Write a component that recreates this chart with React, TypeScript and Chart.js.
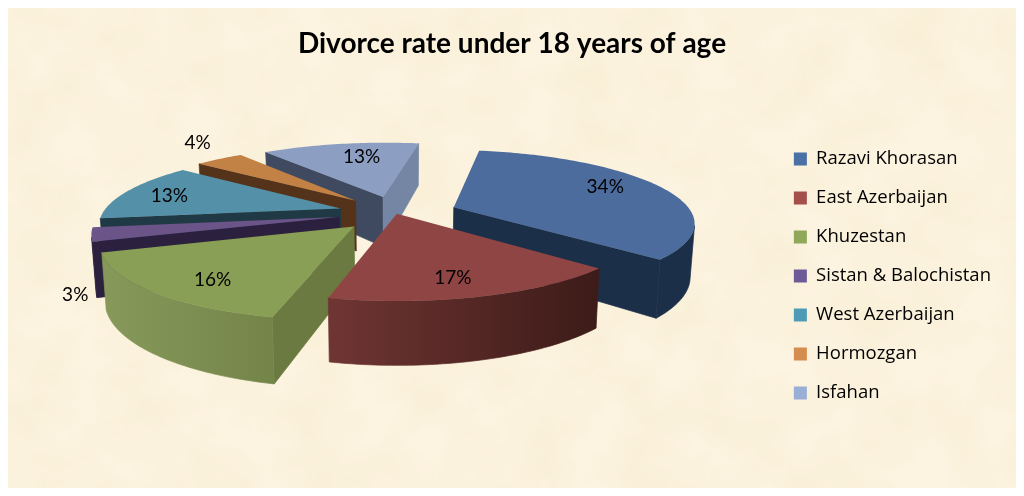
import React, { useEffect, useRef } from "react";
import { Chart, registerables } from "chart.js";

Chart.register(...registerables);

const titleText = "Divorce rate under 18 years of age";
const provinces = ["Razavi Khorasan", "East Azerbaijan", "Khuzestan", "Sistan & Balochistan", "West Azerbaijan", "Hormozgan", "Isfahan"];
const shares = [34, 17, 16, 3, 13, 4, 13];
const explosion = [62, 3, 60, 58, 58, 60, 58];
const legendColors = ["#4A71A6", "#A54F4D", "#8FA85A", "#6E5A96", "#4F9BB5", "#D58C4F", "#9AAFD5"];
const topColors = ["#4B6C9C", "#8F4543", "#8A9F56", "#6A5488", "#5490A8", "#C38245", "#8C9FC2"];
const startWall = ["#1C2F48", "#3C1B18", "#6B7A40", "#2B203D", "#203A45", "#54331A", "#3F4A60"];
const endWall = ["#1C2F48", "#6F3533", "#6B7A40", "#2B203D", "#203A45", "#54331A", "#7486A3"];
const rimLeft = ["#1C2F48", "#6F3533", "#86995A", "#2B203D", "#203A45", "#54331A", "#3F4A60"];
const rimRight = ["#1C2F48", "#3C1B18", "#6C7B42", "#2B203D", "#203A45", "#54331A", "#3F4A60"];
const paintOrder = [6, 5, 4, 3, 2, 0, 1];
const labelRadius = [0.62, 0.6, 0.6, 1.15, 0.7, 1.2, 0.65];
const labelNudge = [[21, -7], [9, 19], [-28, 17], [23, 58], [-20, 0], [2, -9], [8, -4]];

const view = { cx: 396, cy: 213, tilt: 0.295, persp: 0.19, depth: 52, shrink: 0.985 };

type Pt = { x: number; y: number };

function project(u: number, v: number, low: boolean, R: number): Pt {
  const w = 1 - view.persp * v;
  const s = low ? view.shrink : 1;
  return {
    x: view.cx + (R * u * s) / w,
    y: view.cy + (R * view.tilt * v) / w + (low ? view.depth / w : 0),
  };
}

function fillPoly(ctx: CanvasRenderingContext2D, pts: Pt[], fill: any, seal = false) {
  ctx.beginPath();
  pts.forEach((p, i) => (i ? ctx.lineTo(p.x, p.y) : ctx.moveTo(p.x, p.y)));
  ctx.closePath();
  ctx.fillStyle = fill;
  ctx.fill();
  if (seal) {
    ctx.strokeStyle = fill;
    ctx.lineWidth = 0.7;
    ctx.stroke();
  }
}

function faces(a: Pt, b: Pt, c: Pt, d: Pt) {
  const q = [a, b, c, d];
  let area = 0;
  q.forEach((p, k) => {
    const n = q[(k + 1) % 4];
    area += p.x * n.y - n.x * p.y;
  });
  return area < 0;
}

function sliceFrame(arc: any) {
  const R = arc.outerRadius;
  const mid = (arc.startAngle + arc.endAngle) / 2;
  const e = (arc.options.offset || 0) / R;
  return { R, mid, ou: e * Math.cos(mid), ov: e * Math.sin(mid) };
}

const pie3d = {
  id: "pie3d",
  beforeDatasetDraw(chart: any) {
    const ctx: CanvasRenderingContext2D = chart.ctx;
    const arcs = chart.getDatasetMeta(0).data;
    ctx.save();
    paintOrder.forEach((i) => {
      const arc = arcs[i];
      const { R, ou, ov } = sliceFrame(arc);
      const n = Math.max(4, Math.ceil((arc.endAngle - arc.startAngle) / 0.02));
      const ring: [number, number][] = [[ou, ov]];
      for (let s = 0; s <= n; s++) {
        const a = arc.startAngle + ((arc.endAngle - arc.startAngle) * s) / n;
        ring.push([ou + Math.cos(a), ov + Math.sin(a)]);
      }
      const hi = ring.map(([u, v]) => project(u, v, false, R));
      const lo = ring.map(([u, v]) => project(u, v, true, R));
      const xs = hi.map((p) => p.x);
      const grad = ctx.createLinearGradient(Math.min(...xs), 0, Math.max(...xs), 0);
      grad.addColorStop(0, rimLeft[i]);
      grad.addColorStop(1, rimRight[i]);
      const last = hi.length - 1;
      if (faces(hi[0], hi[1], lo[1], lo[0])) fillPoly(ctx, [hi[0], hi[1], lo[1], lo[0]], startWall[i], true);
      if (faces(hi[last], hi[0], lo[0], lo[last])) fillPoly(ctx, [hi[last], hi[0], lo[0], lo[last]], endWall[i], true);
      // the rim: one polygon over the run of segments that face the viewer
      let from = -1;
      let to = -1;
      for (let s = 1; s < last; s++) {
        if (faces(hi[s], hi[s + 1], lo[s + 1], lo[s])) {
          if (from < 0) from = s;
          to = s + 1;
        }
      }
      if (from > 0) {
        const band = [...hi.slice(from, to + 1), ...lo.slice(from, to + 1).reverse()];
        fillPoly(ctx, band, grad, true);
      }
      fillPoly(ctx, hi, topColors[i]);
    });
    ctx.fillStyle = "#000";
    ctx.font = "19px Lato";
    ctx.textAlign = "center";
    ctx.textBaseline = "middle";
    arcs.forEach((arc: any, i: number) => {
      const { R, mid, ou, ov } = sliceFrame(arc);
      const r = labelRadius[i];
      const p = project(ou + r * Math.cos(mid), ov + r * Math.sin(mid), false, R);
      ctx.fillText(shares[i] + "%", p.x + labelNudge[i][0], p.y + labelNudge[i][1]);
    });
    ctx.restore();
    return false;
  },
};

const parchment =
  "url(\"data:image/svg+xml;utf8," +
  encodeURIComponent(
    "<svg xmlns='http://www.w3.org/2000/svg' width='1008' height='480'><filter id='n' x='0' y='0' width='100%' height='100%'><feTurbulence type='fractalNoise' baseFrequency='0.018' numOctaves='4' seed='7'/><feColorMatrix values='0 0 0 0 0.93  0 0 0 0 0.84  0 0 0 0 0.62  0.9 0 0 0 -0.28'/></filter><rect width='1008' height='480' filter='url(#n)'/></svg>"
  ) +
  "\")";

export default function App() {
  const ref = useRef<HTMLCanvasElement>(null);
  useEffect(() => {
    document.body.style.margin = "0";
    const chart = new Chart(ref.current!, {
      type: "pie",
      data: {
        labels: provinces,
        datasets: [{ data: shares, backgroundColor: legendColors, borderWidth: 0, offset: explosion }],
      },
      plugins: [pie3d],
      options: {
        responsive: false,
        animation: false,
        events: [],
        rotation: 10,
        radius: 238,
        layout: { padding: { top: 27, right: 23, bottom: -29, left: 23 } },
        plugins: {
          tooltip: { enabled: false },
          title: {
            display: true,
            text: titleText,
            color: "#000",
            font: { family: "Lato", size: 28, weight: "bold" },
            padding: { top: 0, bottom: 10 },
          },
          legend: {
            position: "right",
            labels: {
              boxWidth: 13,
              boxHeight: 13,
              padding: 20.5,
              color: "#000",
              font: { family: "Open Sans", size: 18.5 },
            },
          },
        },
      },
    } as any);
    return () => chart.destroy();
  }, []);
  return (
    <div style={{ position: "relative", width: 1024, height: 496, background: "#fff", overflow: "hidden" }}>
      <div
        style={{
          position: "absolute",
          left: 8,
          top: 8,
          width: 1008,
          height: 480,
          backgroundColor: "#FCF3E0",
          backgroundImage: parchment,
        }}
      />
      <canvas ref={ref} width={1024} height={496} style={{ position: "absolute", left: 0, top: 0, display: "block" }} />
    </div>
  );
}
